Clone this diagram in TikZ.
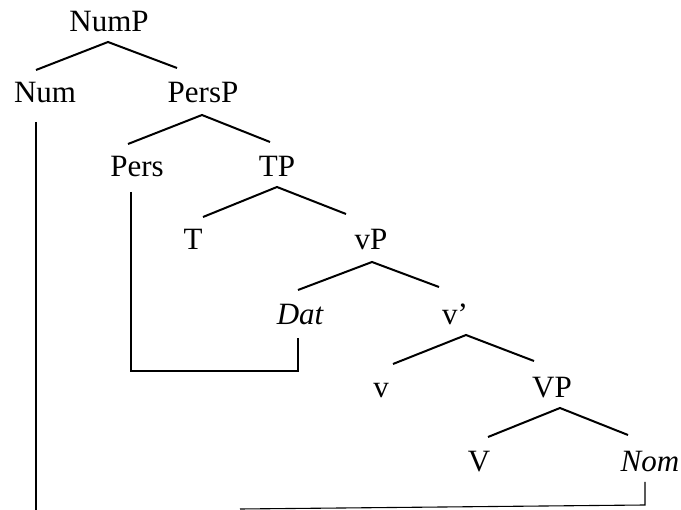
\documentclass[tikz,border=0pt]{standalone}
\usepackage{fontspec}
\setmainfont{Liberation Serif}
\begin{document}
\begin{tikzpicture}[x=1pt,y=-1pt,
  lab/.style={anchor=base,inner sep=0pt,font=\fontsize{31}{31}\selectfont},
  branch/.style={line width=2pt},
  link/.style={line width=1.1pt}]
\useasboundingbox (0,0) rectangle (681,510);
% labels
\node[lab] (NumP) at (109,32) {NumP};
\node[lab] (Num) at (45,103) {Num};
\node[lab] (PersP) at (203,103) {PersP};
\node[lab] (Pers) at (137,177) {Pers};
\node[lab] (TP) at (277,177) {TP};
\node[lab] (T) at (193,250) {T};
\node[lab] (vP) at (371,250) {vP};
\node[lab] (Dat) at (300,325) {\itshape Dat};
\node[lab] (vbar) at (455,325) {v’};
\node[lab] (v) at (381,398) {v};
\node[lab] (VP) at (552,398) {VP};
\node[lab] (V) at (479,472) {V};
\node[lab] (Nom) at (650,472) {\itshape Nom};
% branch points
\coordinate (aNumP) at (108,42);
\coordinate (eNum) at (36,70);
\coordinate (ePersP) at (177,68);
\coordinate (aPersP) at (202,115);
\coordinate (ePers) at (128,144);
\coordinate (eTP) at (270,142);
\coordinate (aTP) at (277,187);
\coordinate (eT) at (203,217);
\coordinate (evP) at (346,214);
\coordinate (avP) at (372,262);
\coordinate (eDat) at (298,290);
\coordinate (evbar) at (439,287);
\coordinate (avbar) at (466,335);
\coordinate (ev) at (393,364);
\coordinate (eVP) at (534,361);
\coordinate (aVP) at (560,408);
\coordinate (eV) at (488,437);
\coordinate (eNom) at (628,435);
\draw[branch] (eNum) -- (aNumP) -- (ePersP);
\draw[branch] (ePers) -- (aPersP) -- (eTP);
\draw[branch] (eT) -- (aTP) -- (evP);
\draw[branch] (eDat) -- (avP) -- (evbar);
\draw[branch] (ev) -- (avbar) -- (eVP);
\draw[branch] (eV) -- (aVP) -- (eNom);
% movement links
\coordinate (pTop) at (131,192);
\coordinate (pBot) at (131,371);
\coordinate (dBot) at (298,371);
\coordinate (dTop) at (298,338);
\draw[link] (pTop) -- (pBot) -- (dBot) -- (dTop);
\coordinate (nTop) at (36,122);
\coordinate (nBot) at (36,510);
\draw[link] (nTop) -- (nBot);
\coordinate (mTop) at (645,482);
\coordinate (mBot) at (645,505);
\coordinate (mEnd) at (240,509);
\draw[link] (mTop) -- (mBot) -- (mEnd);
\end{tikzpicture}
\end{document}
